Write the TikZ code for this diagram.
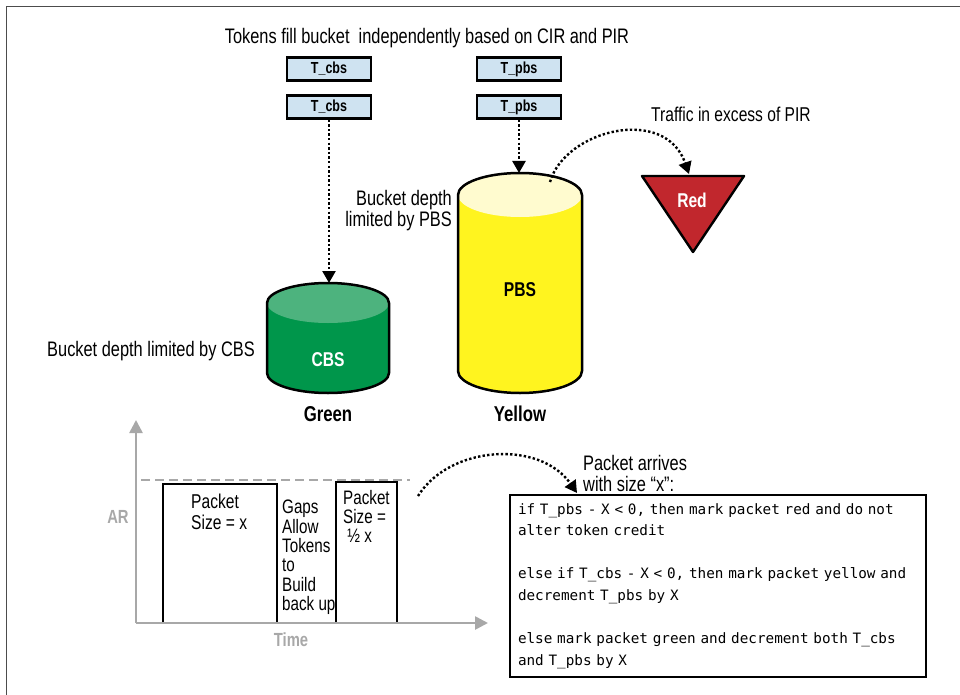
\documentclass[tikz,border=0pt]{standalone}
\usepackage{fontspec}
\setmainfont{Liberation Sans}[FakeStretch=0.78]
\setmonofont{DejaVu Sans Mono}
\usetikzlibrary{arrows.meta}

\definecolor{tokblue}{HTML}{CFE3F1}
\definecolor{cbsgreen}{HTML}{00964B}
\definecolor{cbslid}{HTML}{4DB37E}
\definecolor{pbsyellow}{HTML}{FFF41F}
\definecolor{pbslid}{HTML}{FFFBCF}
\definecolor{redmark}{HTML}{C1272D}
\definecolor{axisgray}{HTML}{A8A8A8}

\tikzset{
  tokbox/.style={draw, line width=2.2pt, fill=tokblue, minimum width=84pt, minimum height=23pt,
    inner sep=0pt, font=\fontsize{16}{18}\selectfont\bfseries},
  lbl/.style={inner sep=0pt, font=\fontsize{21}{21}\selectfont},
  boldlbl/.style={inner sep=0pt, font=\fontsize{21.5}{22}\selectfont\bfseries},
  chartlbl/.style={inner sep=0pt, align=left, font=\fontsize{19.5}{19.3}\selectfont},
  dotarrow/.style={line width=2.4pt, dash pattern=on 2.4pt off 2.2pt,
    -{Triangle[width=13pt,length=12pt]}},
  axis/.style={axisgray, line width=2.6pt, -{Triangle[width=13pt,length=13pt]}},
  bucketline/.style={line width=2.5pt, line join=round},
}

\begin{document}
\begin{tikzpicture}[x=1pt, y=-1pt]
  \useasboundingbox (0,0) rectangle (960,695);
  \draw[black!70, line width=1.6pt] (6.5,695) -- (6.5,6.5) -- (960,6.5);

  % token generators
  \node[lbl] (title) at (427,38) {Tokens fill bucket\ \ independently based on CIR and PIR};
  \node[tokbox] (tc1) at (329,69) {T\_cbs};
  \node[tokbox] (tc2) at (329,107) {T\_cbs};
  \node[tokbox] (tp1) at (519,69) {T\_pbs};
  \node[tokbox] (tp2) at (519,107) {T\_pbs};

  % CBS bucket
  \def\cx{328} \def\rx{61} \def\ry{20} \def\ya{303} \def\yb{373}
  \fill[cbsgreen] (\cx-\rx,\ya) -- (\cx-\rx,\yb)
    arc[start angle=180, end angle=0, x radius=\rx, y radius=\ry] -- (\cx+\rx,\ya) -- cycle;
  \fill[cbslid] (\cx,\ya) ellipse[x radius=\rx, y radius=\ry];
  \draw[bucketline] (\cx-\rx,\yb) -- (\cx-\rx,\ya)
    arc[start angle=180, end angle=360, x radius=\rx, y radius=\ry] -- (\cx+\rx,\yb)
    arc[start angle=0, end angle=180, x radius=\rx, y radius=\ry];
  \coordinate (cbstop) at (\cx,\ya-\ry);
  \node[boldlbl, text=white, font=\fontsize{20}{22}\selectfont\bfseries] (cbs) at (\cx,360) {CBS};
  \node[boldlbl] (green) at (\cx,414) {Green};
  \node[lbl, anchor=east] (cbsnote) at (255,351) {Bucket depth limited by CBS};

  % PBS bucket
  \def\cx{520} \def\rx{62} \def\ry{22} \def\ya{195} \def\yb{371}
  \fill[pbsyellow] (\cx-\rx,\ya) -- (\cx-\rx,\yb)
    arc[start angle=180, end angle=0, x radius=\rx, y radius=\ry] -- (\cx+\rx,\ya) -- cycle;
  \fill[pbslid] (\cx,\ya) ellipse[x radius=\rx, y radius=\ry];
  \draw[bucketline] (\cx-\rx,\yb) -- (\cx-\rx,\ya)
    arc[start angle=180, end angle=360, x radius=\rx, y radius=\ry] -- (\cx+\rx,\yb)
    arc[start angle=0, end angle=180, x radius=\rx, y radius=\ry];
  \coordinate (pbstop) at (\cx,\ya-\ry);
  \coordinate (spill) at (550,182);
  \node[boldlbl, font=\fontsize{20}{22}\selectfont\bfseries] (pbs) at (\cx,290) {PBS};
  \node[boldlbl] (yellow) at (\cx,414) {Yellow};
  \node[lbl, anchor=north east, align=right] (pbsnote) at (452,190) {Bucket depth\\limited by PBS};

  % red marker
  \fill[redmark] (642,176) -- (744,176) -- (693,252) -- cycle;
  \draw[line width=2.4pt, line join=round] (642,176) -- (744,176) -- (693,252) -- cycle;
  \coordinate (redtop) at (689,174);
  \node[boldlbl, text=white, font=\fontsize{20}{22}\selectfont\bfseries] (red) at (692,200) {Red};
  \node[lbl, anchor=west, font=\fontsize{20}{21}\selectfont] (excess) at (651,114) {Traffic in excess of PIR};

  \draw[dotarrow] (tc2.south) -- (tc2.south |- cbstop);
  \draw[dotarrow] (tp2.south) -- (tp2.south |- pbstop);
  \draw[dotarrow] (spill) .. controls (565,130) and (665,105) .. (redtop);

  % arrival rate chart
  \draw[axis] (136,623) -- (136,420);
  \draw[axis] (136,623) -- (488,623);
  \draw[axisgray, line width=2.6pt, dash pattern=on 9pt off 5pt] (141,480) -- (410,480);
  \draw[line width=2pt] (163,622) -- (163,484) -- (277,484) -- (277,622);
  \draw[line width=2pt] (336,622) -- (336,482) -- (397,482) -- (397,622);
  \node[boldlbl, text=axisgray, font=\fontsize{19}{20}\selectfont\bfseries] (ar) at (118,517) {AR};
  \node[boldlbl, text=axisgray, font=\fontsize{19}{20}\selectfont\bfseries] (time) at (291,640) {Time};
  \node[chartlbl, anchor=north west, font=\fontsize{20}{21}\selectfont] (pkt1) at (191,494) {Packet\\Size = x};
  \node[chartlbl, anchor=north west] (gaps) at (282,500) {Gaps\\Allow\\Tokens\\to\\Build\\back up};
  \node[chartlbl, anchor=north west] (pkt2) at (343,490) {Packet\\Size =\\ \ ½ x};

  % marking rules
  \node[draw, line width=2pt, anchor=north west, minimum width=416pt, minimum height=182pt,
    text width=400pt, inner xsep=8pt, align=left,
    font=\ttfamily\fontsize{14.3}{21.6}\selectfont] (rules) at (509,494)
    {if T\_pbs - X < 0, then mark packet red and do not\\
     alter token credit\\[21.6pt]
     else if T\_cbs - X < 0, then mark packet yellow and\\
     decrement T\_pbs by X\\[21.6pt]
     else mark packet green and decrement both T\_cbs\\
     and T\_pbs by X};
  \node[lbl, anchor=north west, align=left] (arrives) at (583,455) {Packet arrives\\with size “x”:};
  \coordinate (pktout) at (418,496);
  \coordinate (pktin) at (577,493);
  \draw[dotarrow] (pktout) .. controls (450,445) and (540,440) .. (pktin);
\end{tikzpicture}
\end{document}
